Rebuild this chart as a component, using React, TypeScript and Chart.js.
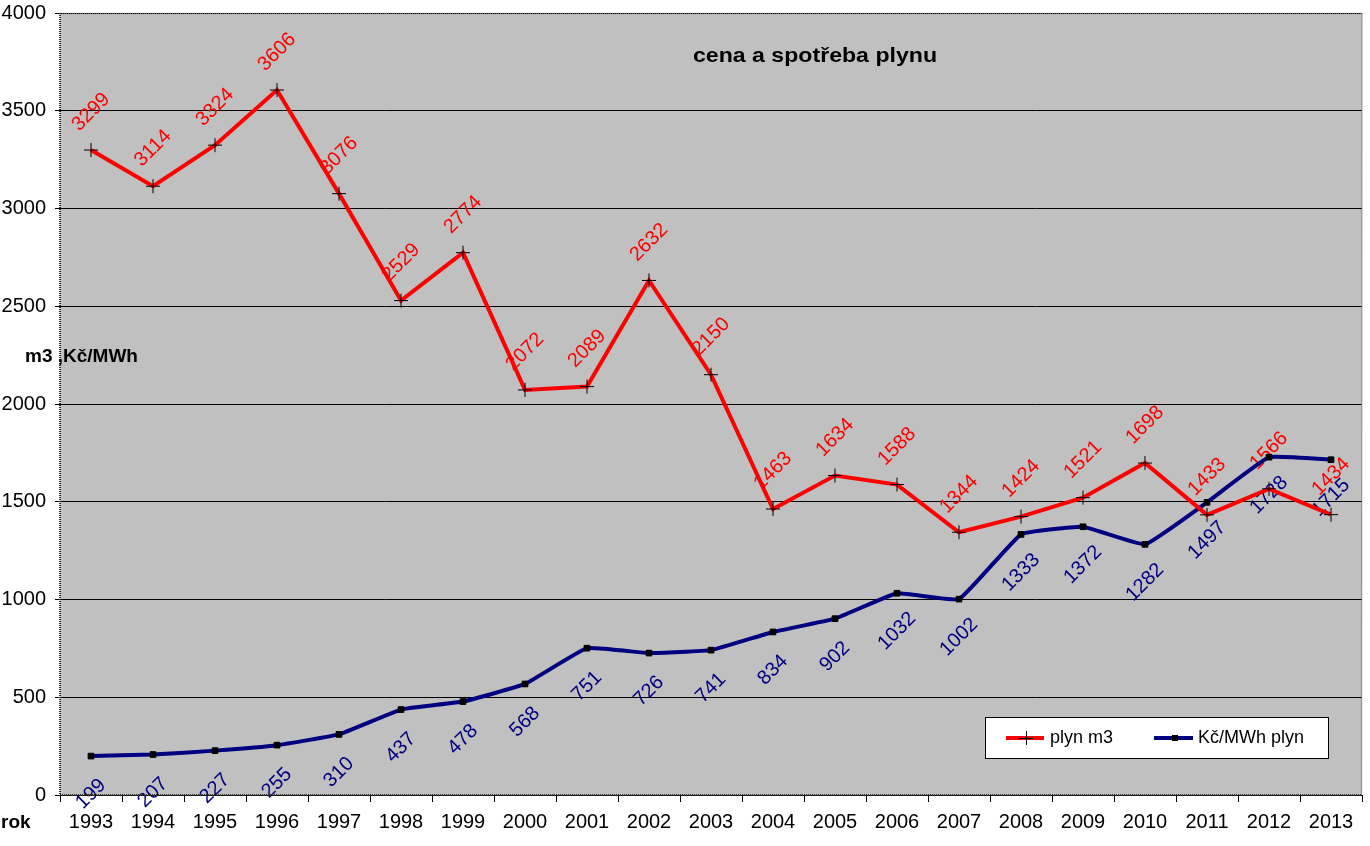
import React, { useEffect, useRef } from "react";
import { Chart, registerables } from "chart.js";

Chart.register(...registerables);

const years = ["1993","1994","1995","1996","1997","1998","1999","2000","2001","2002","2003","2004","2005","2006","2007","2008","2009","2010","2011","2012","2013"];
const plynM3 = [3299,3114,3324,3606,3076,2529,2774,2072,2089,2632,2150,1463,1634,1588,1344,1424,1521,1698,1433,1566,1434];
const kcMWh = [199,207,227,255,310,437,478,568,751,726,741,834,902,1032,1002,1333,1372,1282,1497,1728,1715];
const seriesNames = ["plyn m3", "Kč/MWh plyn"];
const titleText = "cena a spotřeba plynu";
const yAxisTitle = "m3 ,Kč/MWh";
const xAxisTitle = "rok";

const FONT = "Arial, 'Liberation Sans', sans-serif";

const decorPlugin = {
  id: "decor",
  beforeDraw(chart: any) {
    const { ctx, chartArea: a } = chart;
    ctx.save();
    ctx.fillStyle = "#ffffff";
    ctx.fillRect(0, 0, chart.width, chart.height);
    ctx.fillStyle = "#C0C0C0";
    ctx.fillRect(a.left, a.top, a.right - a.left, a.bottom - a.top);
    ctx.restore();
  },
  beforeDatasetsDraw(chart: any) {
    const { ctx } = chart;
    ctx.save();
    ctx.font = `20px ${FONT}`;
    ctx.textAlign = "center";
    ctx.textBaseline = "middle";
    chart.data.datasets.forEach((ds: any, di: number) => {
      const meta = chart.getDatasetMeta(di);
      ctx.fillStyle = di === 0 ? "#ff0000" : "#000080";
      meta.data.forEach((pt: any, i: number) => {
        const off = di === 0 ? -38 : 38;
        ctx.save();
        ctx.translate(pt.x, pt.y + off);
        ctx.rotate(-Math.PI / 4);
        ctx.fillText(String(ds.data[i]), 0, 0);
        ctx.restore();
      });
    });
    ctx.restore();
  },
  afterDraw(chart: any) {
    const { ctx, chartArea: a } = chart;
    ctx.save();
    // border
    ctx.setLineDash([1, 1]);
    ctx.strokeStyle = "#707070";
    ctx.lineWidth = 1.5;
    ctx.beginPath();
    ctx.moveTo(a.left, a.top + 0.5);
    ctx.lineTo(a.right, a.top + 0.5);
    ctx.lineTo(a.right - 0.5, a.bottom);
    ctx.stroke();
    ctx.strokeStyle = "#303030";
    ctx.lineWidth = 2;
    ctx.beginPath();
    ctx.moveTo(a.left, a.top);
    ctx.lineTo(a.left, a.bottom);
    ctx.lineTo(a.right, a.bottom);
    ctx.stroke();
    ctx.setLineDash([]);

    // title
    ctx.fillStyle = "#000";
    ctx.font = `bold 20px ${FONT}`;
    ctx.textBaseline = "middle";
    ctx.textAlign = "left";
    const tw = ctx.measureText(titleText).width;
    const sx = 244 / tw;
    ctx.save();
    ctx.translate(693, 56);
    ctx.scale(sx, 1);
    ctx.fillText(titleText, 0, 0);
    ctx.restore();

    // axis titles
    ctx.font = `bold 19px ${FONT}`;
    ctx.fillText(yAxisTitle, 25, 357);
    ctx.fillText(xAxisTitle, 1, 823);

    // legend
    const lx = 985.5, ly = 717.5, lw = 343, lh = 41;
    ctx.fillStyle = "#fff";
    ctx.fillRect(lx, ly, lw, lh);
    ctx.strokeStyle = "#000";
    ctx.lineWidth = 1;
    ctx.strokeRect(lx, ly, lw, lh);
    const cy = 738;
    // red item
    ctx.strokeStyle = "#ff0000";
    ctx.lineWidth = 4;
    ctx.beginPath();
    ctx.moveTo(1006, cy);
    ctx.lineTo(1044, cy);
    ctx.stroke();
    ctx.strokeStyle = "#000";
    ctx.lineWidth = 1;
    ctx.beginPath();
    ctx.moveTo(1019, cy + 0.5);
    ctx.lineTo(1033, cy + 0.5);
    ctx.moveTo(1026.5, cy - 7);
    ctx.lineTo(1026.5, cy + 7);
    ctx.stroke();
    // blue item
    ctx.strokeStyle = "#000080";
    ctx.lineWidth = 4;
    ctx.beginPath();
    ctx.moveTo(1154, cy);
    ctx.lineTo(1193, cy);
    ctx.stroke();
    ctx.fillStyle = "#000";
    ctx.fillRect(1172, cy - 3, 6, 6);
    ctx.font = `18px ${FONT}`;
    ctx.fillStyle = "#000";
    ctx.fillText(seriesNames[0], 1050, cy);
    ctx.fillText(seriesNames[1], 1198, cy);
    ctx.restore();
  },
};

export default function App() {
  const ref = useRef<HTMLCanvasElement | null>(null);
  useEffect(() => {
    document.body.style.margin = "0";
    const chart = new Chart(ref.current as HTMLCanvasElement, {
      type: "line",
      data: {
        labels: years,
        datasets: [
          {
            label: seriesNames[0],
            data: plynM3,
            borderColor: "#ff0000",
            borderWidth: 4,
            tension: 0,
            pointStyle: "cross",
            pointRadius: 7,
            pointBorderColor: "#000",
            pointBorderWidth: 1,
            pointBackgroundColor: "#000",
          },
          {
            label: seriesNames[1],
            data: kcMWh,
            borderColor: "#000080",
            borderWidth: 4,
            tension: 0.1,
            pointStyle: "rect",
            pointRadius: 4,
            pointBorderColor: "#000",
            pointBorderWidth: 1,
            pointBackgroundColor: "#000",
          },
        ],
      },
      options: {
        responsive: false,
        animation: false,
        devicePixelRatio: 1,
        layout: { padding: { top: 13, right: 8, left: 0, bottom: 0 } },
        plugins: {
          legend: { display: false },
          title: { display: false },
          tooltip: { enabled: false },
        },
        scales: {
          x: {
            type: "category",
            offset: true,
            grid: { offset: true, drawOnChartArea: false, drawTicks: true, tickLength: 7, color: "#000", lineWidth: 1 },
            border: { display: false },
            ticks: { color: "#000", font: { size: 20, family: FONT }, padding: 8, maxRotation: 0, autoSkip: false },
            afterFit: (s: any) => { s.height = 51; s.paddingLeft = 0; s.paddingRight = 0; },
          },
          y: {
            min: 0,
            max: 4000,
            ticks: {
              stepSize: 500,
              color: "#000",
              font: { size: 20, family: FONT },
              padding: 9,
              callback: (v: any) => String(v),
            },
            grid: { color: "#000", lineWidth: 1, tickLength: 5, drawTicks: true },
            border: { display: false },
            afterFit: (s: any) => { s.width = 60; s.paddingTop = 0; s.paddingBottom = 0; },
          },
        },
      },
      plugins: [decorPlugin],
    });
    return () => chart.destroy();
  }, []);
  return (
    <div style={{ position: "absolute", left: 0, top: 0, width: 1370, height: 846 }}>
      <canvas ref={ref} width={1370} height={846} style={{ width: 1370, height: 846 }} />
    </div>
  );
}
